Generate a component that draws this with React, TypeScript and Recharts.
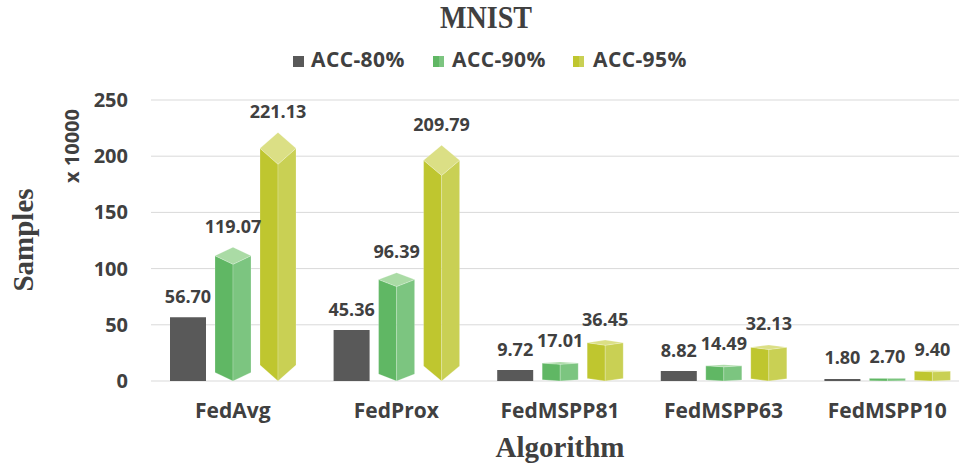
import { BarChart, Bar, XAxis, YAxis, CartesianGrid, LabelList } from 'recharts'

const algorithms = ['FedAvg', 'FedProx', 'FedMSPP81', 'FedMSPP63', 'FedMSPP10']
const acc80 = [56.7, 45.36, 9.72, 8.82, 1.8]
const acc90 = [119.07, 96.39, 17.01, 14.49, 2.7]
const acc95 = [221.13, 209.79, 36.45, 32.13, 9.4]
const yTicks = [0, 50, 100, 150, 200, 250]
const seriesNames = ['ACC-80%', 'ACC-90%', 'ACC-95%']

const data = algorithms.map((name, i) => ({
  name,
  acc80: acc80[i],
  acc90: acc90[i],
  acc95: acc95[i],
}))

const DARK = '#595959'
// left face, right face, top face
const GREEN = ['#60b764', '#7cc580', '#aadba5']
const YELLOW = ['#bfc62f', '#c9d054', '#dbdf85']
const TEXT = '#404040'
const SANS = '"Open Sans", sans-serif'
const SERIF = '"Liberation Serif", "Times New Roman", serif'

function Prism(props: any) {
  const { x, y, width, height, faces } = props
  if (!height || height <= 0) return null
  const d = height * 0.064
  const cx = x + width / 2
  const r = x + width
  const base = y + height
  const edge = 'rgba(255,255,255,0.35)'
  return (
    <g>
      <polygon
        points={`${x},${y + d} ${cx},${y + 2 * d} ${cx},${base} ${x},${base - d}`}
        fill={faces[0]}
        stroke={edge}
        strokeWidth={0.6}
      />
      <polygon
        points={`${cx},${y + 2 * d} ${r},${y + d} ${r},${base - d} ${cx},${base}`}
        fill={faces[1]}
        stroke={edge}
        strokeWidth={0.6}
      />
      <polygon
        points={`${cx},${y} ${r},${y + d} ${cx},${y + 2 * d} ${x},${y + d}`}
        fill={faces[2]}
        stroke={edge}
        strokeWidth={0.6}
      />
    </g>
  )
}

const valueLabel = (props: any) => {
  const { x, y, width, value } = props
  return (
    <text
      x={x + width / 2}
      y={y - 14.5}
      textAnchor="middle"
      fontSize={18}
      fontWeight={700}
      fontFamily={SANS}
      fill={TEXT}
    >
      {Number(value).toFixed(2)}
    </text>
  )
}

const xTick = (props: any) => {
  const { x, y, payload } = props
  return (
    <text x={x} y={y + 28.5} textAnchor="middle" fontSize={21} fontWeight={700} fontFamily={SANS} fill={TEXT}>
      {payload.value}
    </text>
  )
}

const yTick = (props: any) => {
  const { x, y, payload } = props
  return (
    <text x={x - 15} y={y + 7} textAnchor="end" fontSize={20} fontWeight={700} fontFamily={SANS} fill={TEXT}>
      {payload.value}
    </text>
  )
}

function LegendIcon({ x, faces }: { x: number; faces: string[] | null }) {
  if (!faces) return <rect x={x} y={56} width={11} height={11} fill={DARK} />
  return (
    <g>
      <rect x={x} y={56} width={6} height={11} fill={faces[0]} />
      <rect x={x + 6} y={56} width={5} height={11} fill={faces[1]} />
    </g>
  )
}

export default function App() {
  const legendFaces = [null, GREEN, YELLOW]
  return (
    <div
      style={{
        position: 'absolute',
        left: 0,
        top: 0,
        width: 959,
        height: 465,
        overflow: 'hidden',
        background: '#fff',
        fontFamily: SANS,
      }}
    >
      <BarChart
        width={969}
        height={465}
        data={data}
        margin={{ top: 100, right: 0, bottom: 0, left: 0 }}
        barCategoryGap={19}
        barGap={9}
      >
        <CartesianGrid vertical={false} stroke="#d9d9d9" />
        <XAxis
          dataKey="name"
          height={84}
          axisLine={false}
          tickLine={false}
          tick={xTick}
          interval={0}
        />
        <YAxis
          width={151}
          domain={[0, 250]}
          ticks={yTicks}
          axisLine={false}
          tickLine={false}
          tick={yTick}
        />
        <Bar dataKey="acc80" name={seriesNames[0]} fill={DARK} isAnimationActive={false}>
          <LabelList dataKey="acc80" content={valueLabel} />
        </Bar>
        <Bar
          dataKey="acc90"
          name={seriesNames[1]}
          fill={GREEN[0]}
          isAnimationActive={false}
          shape={(p: any) => <Prism {...p} faces={GREEN} />}
        >
          <LabelList dataKey="acc90" content={valueLabel} />
        </Bar>
        <Bar
          dataKey="acc95"
          name={seriesNames[2]}
          fill={YELLOW[0]}
          isAnimationActive={false}
          shape={(p: any) => <Prism {...p} faces={YELLOW} />}
        >
          <LabelList dataKey="acc95" content={valueLabel} />
        </Bar>
      </BarChart>

      <svg
        width={959}
        height={465}
        style={{ position: 'absolute', left: 0, top: 0, pointerEvents: 'none' }}
      >
        <text
          x={486}
          y={28}
          textAnchor="middle"
          fontSize={31}
          fontWeight={700}
          fontFamily={SERIF}
          fill={TEXT}
          textLength={92}
          lengthAdjust="spacingAndGlyphs"
        >
          MNIST
        </text>
        {seriesNames.map((s, i) => (
          <g key={s}>
            <LegendIcon x={293 + i * 140} faces={legendFaces[i]} />
            <text
              x={311 + i * 141}
              y={67}
              fontSize={21}
              fontWeight={700}
              fontFamily={SANS}
              fill={TEXT}
              letterSpacing={0.4}
            >
              {s}
            </text>
          </g>
        ))}
        <text
          x={79}
          y={146}
          transform="rotate(-90, 79, 146)"
          textAnchor="middle"
          fontSize={20}
          fontWeight={700}
          fontFamily={SANS}
          fill={TEXT}
        >
          x 10000
        </text>
        <text
          x={32.5}
          y={240}
          transform="rotate(-90, 32.5, 240)"
          textAnchor="middle"
          fontSize={29}
          fontWeight={700}
          fontFamily={SERIF}
          fill={TEXT}
        >
          Samples
        </text>
        <text x={560} y={456.5} textAnchor="middle" fontSize={29} fontWeight={700} fontFamily={SERIF} fill={TEXT}>
          Algorithm
        </text>
      </svg>
    </div>
  )
}
